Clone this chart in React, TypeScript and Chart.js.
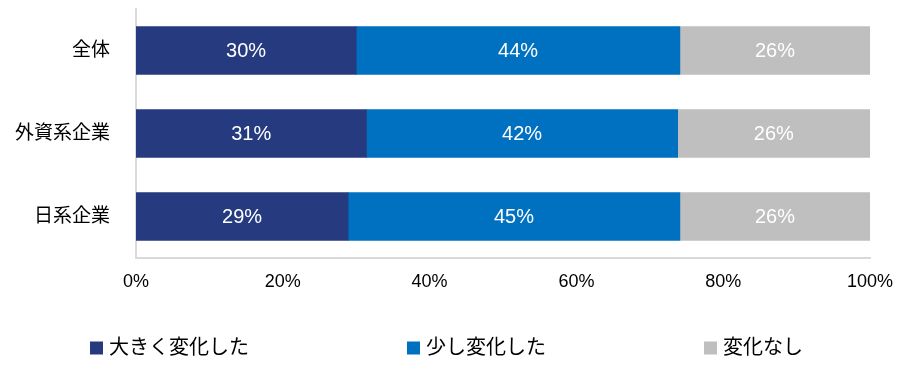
import React, { useEffect, useRef } from "react";
import { Chart, registerables } from "chart.js";

Chart.register(...registerables);

const categories = ["全体", "外資系企業", "日系企業"];
const seriesNames = ["大きく変化した", "少し変化した", "変化なし"];
const bigChange = [30.0, 31.4, 28.9];
const smallChange = [44.1, 42.4, 45.2];
const noChange = [25.9, 26.2, 25.9];
const xTicks = ["0%", "20%", "40%", "60%", "80%", "100%"];
const colors = ["#253a7f", "#0070c0", "#bfbfbf"];

const FONT = "'Liberation Sans', Arial, 'Noto Sans CJK JP', sans-serif";

const valueLabels = {
  id: "valueLabels",
  afterDatasetsDraw(chart: any) {
    const ctx = chart.ctx;
    ctx.save();
    ctx.fillStyle = "#ffffff";
    ctx.font = `20px ${FONT}`;
    ctx.textAlign = "center";
    ctx.textBaseline = "middle";
    chart.data.datasets.forEach((ds: any, di: number) => {
      const meta = chart.getDatasetMeta(di);
      meta.data.forEach((bar: any, i: number) => {
        const v = ds.data[i];
        const cx = (bar.x + bar.base) / 2;
        ctx.fillText(`${Math.round(v)}%`, cx, bar.y + 1);
      });
    });
    ctx.restore();
  },
};

const customLegend = {
  id: "customLegend",
  afterDraw(chart: any) {
    const ctx = chart.ctx;
    ctx.save();
    ctx.font = `20px ${FONT}`;
    ctx.textBaseline = "middle";
    ctx.textAlign = "left";
    const y = 348;
    const box = 13;
    const gapBoxText = 6;
    const gapItems = 158;
    let x = 90;
    chart.data.datasets.forEach((ds: any) => {
      ctx.fillStyle = ds.backgroundColor;
      ctx.fillRect(x, y - box / 2, box, box);
      ctx.fillStyle = "#000000";
      const tx = x + box + gapBoxText;
      ctx.fillText(ds.label, tx, y);
      const w = ctx.measureText(ds.label).width;
      x = tx + w + gapItems;
    });
    ctx.restore();
  },
};

export default function App() {
  const ref = useRef<HTMLCanvasElement>(null);
  useEffect(() => {
    if (!ref.current) return;
    const chart = new Chart(ref.current, {
      type: "bar",
      data: {
        labels: categories,
        datasets: [bigChange, smallChange, noChange].map((d, i) => ({
          label: seriesNames[i],
          data: d,
          backgroundColor: colors[i],
          borderWidth: 0,
          barThickness: 48,
        })),
      },
      options: {
        indexAxis: "y",
        animation: false,
        responsive: false,
        maintainAspectRatio: false,
        layout: { padding: { top: 9, right: 42, left: 0, bottom: 0 } },
        plugins: {
          legend: { display: false },
          tooltip: { enabled: false },
        },
        scales: {
          x: {
            stacked: true,
            min: 0,
            max: 100,
            afterFit(scale: any) {
              scale.height = 124;
              scale.paddingLeft = 0;
              scale.paddingRight = 0;
            },
            ticks: {
              stepSize: 20,
              padding: 13,
              color: "#000000",
              font: { family: FONT, size: 18 },
              callback: (_v: any, i: number) => xTicks[i],
              maxRotation: 0,
            },
            grid: { display: false, drawTicks: false },
            border: { display: true, color: "#d9d9d9", width: 2 },
          },
          y: {
            stacked: true,
            afterFit(scale: any) {
              scale.width = 136;
              scale.paddingTop = 0;
              scale.paddingBottom = 0;
            },
            ticks: {
              padding: 26,
              color: "#000000",
              font: { family: FONT, size: 19 },
            },
            grid: { display: false, drawTicks: false },
            border: { display: true, color: "#d9d9d9", width: 2 },
          },
        },
      },
      plugins: [valueLabels, customLegend],
    });
    return () => chart.destroy();
  }, []);
  return (
    <div style={{ position: "fixed", left: 0, top: 0, width: 912, height: 382, background: "#fff" }}>
      <canvas ref={ref} width={912} height={382} style={{ width: 912, height: 382 }} />
    </div>
  );
}
